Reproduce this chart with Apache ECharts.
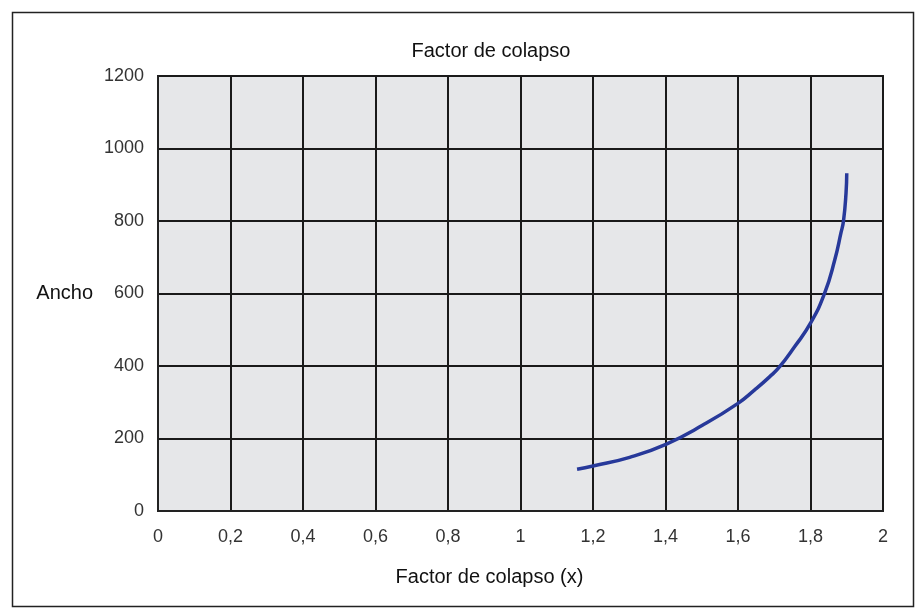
<!DOCTYPE html>
<html>
<head>
<meta charset="utf-8">
<script src="https://cdn.jsdelivr.net/npm/echarts@6/dist/echarts.min.js"></script>
<style>html,body{margin:0;padding:0;background:#fff}#c{width:917px;height:608px}</style>
</head>
<body>
<div id="c"></div>
<script>
const chartTitle = 'Factor de colapso';
const xName = 'Factor de colapso (x)';
const yName = 'Ancho';
const xValues = [1.156, 1.2, 1.301, 1.401, 1.503, 1.6, 1.646, 1.687, 1.715, 1.756, 1.8, 1.839, 1.867, 1.884, 1.891, 1.898, 1.9];
const yValues = [115, 124, 148, 184, 237, 297, 334, 370, 398, 453, 518, 601, 693, 767, 800, 877, 932];

const data = xValues.map((x, i) => [x, yValues[i]]);
const chart = echarts.init(document.getElementById('c'));
const font = '"Liberation Sans", Arial, Helvetica, sans-serif';
chart.setOption({
  animation: false,
  title: {
    text: chartTitle, left: 486, top: 36, textAlign: 'center',
    textStyle: { fontFamily: font, fontSize: 20, fontWeight: 'normal', color: '#111' }
  },
  graphic: [{
    type: 'rect', left: 10, top: 10, z: -10,
    shape: { width: 901, height: 594 },
    style: { fill: 'none', stroke: '#222', lineWidth: 1.5 }
  }],
  grid: { left: 158, right: 34, top: 76, bottom: 97, show: true, backgroundColor: '#e6e7e9', borderColor: '#222', borderWidth: 2 },
  xAxis: {
    type: 'value', min: 0, max: 2, interval: 0.2,
    name: xName, nameLocation: 'middle', nameGap: 56,
    nameTextStyle: { fontFamily: font, fontSize: 20, color: '#111', padding: [0, 62, 0, 0] },
    axisLine: { show: true, lineStyle: { color: '#222', width: 2 } },
    axisTick: { show: false },
    splitLine: { show: true, lineStyle: { color: '#1a1a1a', width: 2 } },
    axisLabel: {
      margin: 17, fontFamily: font, fontSize: 18, color: '#333',
      formatter: v => String(Math.round(v * 10) / 10).replace('.', ',')
    }
  },
  yAxis: {
    type: 'value', min: 0, max: 1200, interval: 200,
    name: yName, nameLocation: 'middle', nameGap: 65, nameRotate: 0,
    nameTextStyle: { fontFamily: font, fontSize: 20, color: '#111', align: 'right' },
    axisLine: { show: true, lineStyle: { color: '#222', width: 2 } },
    axisTick: { show: false },
    splitLine: { show: true, lineStyle: { color: '#1a1a1a', width: 2 } },
    axisLabel: { margin: 14, fontFamily: font, fontSize: 18, color: '#333', formatter: v => String(v) }
  },
  series: [{
    type: 'line', data: data, smooth: 0.5, showSymbol: false,
    lineStyle: { color: '#27399a', width: 3.5 }
  }]
});
</script>
</body>
</html>
